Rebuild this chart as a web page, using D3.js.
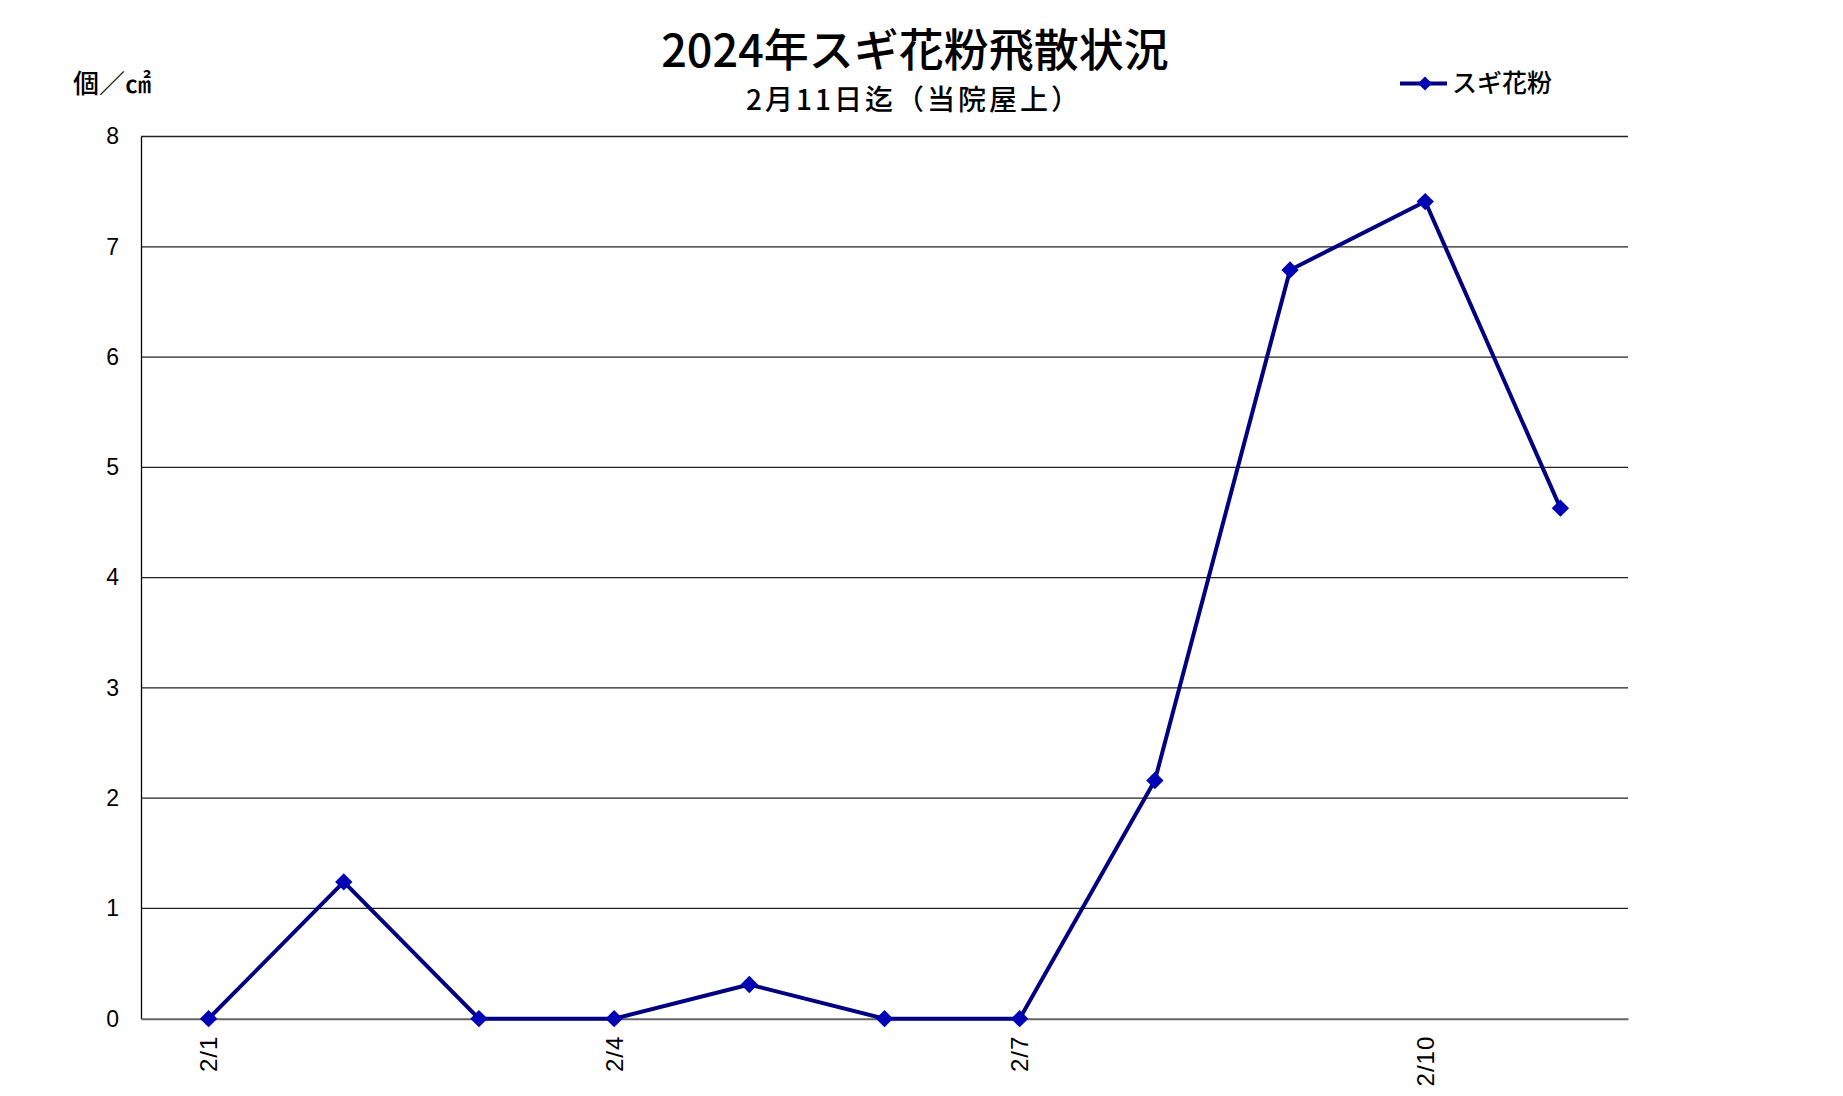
<!DOCTYPE html>
<html>
<head>
<meta charset="utf-8">
<script src="https://cdn.jsdelivr.net/npm/d3@7"></script>
<style>
  html, body { margin: 0; padding: 0; background: #fff; }
  svg { display: block; }
</style>
</head>
<body>
<svg id="chart" width="1843" height="1096"></svg>
<script>
const categories = ["2/1","2/2","2/3","2/4","2/5","2/6","2/7","2/8","2/9","2/10","2/11"];
const values = [0, 1.24, 0, 0, 0.31, 0, 0, 2.16, 6.79, 7.41, 4.63];
const xTickLabels = ["2/1","2/4","2/7","2/10"];
const yTicks = [0,1,2,3,4,5,6,7,8];
const seriesName = "スギ花粉";
const titleText = "2024年スギ花粉飛散状況";
const subtitleText = "2月11日迄（当院屋上）";
const unitText = "個／㎠";

(function () {
const svg = d3.select("#chart");
const pLeft = 141, pRight = 1628, pTop = 136.5, pBottom = 1018.7;
const lineColor = "#000080", markerColor = "#0000b4";
const cjk = "'Noto Sans CJK JP', sans-serif";
const latin = "'Liberation Sans', Arial, sans-serif";

const x = d3.scaleBand().domain(categories).range([pLeft, pRight]);
const y = d3.scaleLinear().domain([0, 8]).range([pBottom, pTop]);

// gridlines
svg.append("g").selectAll("line").data(yTicks.filter(d => d > 0)).join("line")
  .attr("x1", pLeft).attr("x2", pRight)
  .attr("y1", d => y(d)).attr("y2", d => y(d))
  .attr("stroke", "#222").attr("stroke-width", 1.3);

// y axis
const yAxis = d3.axisLeft(y).tickValues(yTicks).tickSize(0).tickPadding(22).tickFormat(d3.format("d"));
const gy = svg.append("g").attr("transform", `translate(${pLeft},0)`).call(yAxis);
gy.select(".domain").attr("stroke", "#000").attr("stroke-width", 1.3);
gy.selectAll("text").attr("font-family", latin).attr("font-size", 23).attr("fill", "#000");

// x axis
const xAxis = d3.axisBottom(x).tickValues(xTickLabels).tickSize(0).tickPadding(0);
const gx = svg.append("g").attr("transform", `translate(0,${pBottom})`).call(xAxis);
gx.select(".domain").attr("stroke", "#666").attr("stroke-width", 2);
gx.selectAll("text")
  .attr("font-family", latin).attr("font-size", 24).attr("fill", "#000")
  .attr("text-anchor", "end").attr("letter-spacing", 1)
  .attr("transform", "translate(0,17) rotate(-90)")
  .attr("x", 0).attr("y", 0).attr("dy", "0.35em");

// line
const line = d3.line()
  .x((d, i) => x(categories[i]) + x.bandwidth() / 2)
  .y(d => y(d));
svg.append("path").datum(values)
  .attr("d", line)
  .attr("fill", "none").attr("stroke", lineColor).attr("stroke-width", 4)
  .attr("stroke-linejoin", "round");

const diamond = d3.symbol().type(d3.symbolSquare).size(150);
svg.append("g").selectAll("path").data(values).join("path")
  .attr("d", diamond)
  .attr("transform", (d, i) => `translate(${x(categories[i]) + x.bandwidth() / 2},${y(d)}) rotate(45)`)
  .attr("fill", markerColor);

// titles
svg.append("text").attr("x", 915).attr("y", 67).attr("text-anchor", "middle")
  .attr("font-family", cjk).attr("font-size", 45).attr("font-weight", 500).attr("fill", "#000").text(titleText);
svg.append("text").attr("x", 914).attr("y", 110).attr("text-anchor", "middle")
  .attr("font-family", cjk).attr("font-size", 28).attr("font-weight", 500).attr("letter-spacing", 3).attr("fill", "#000").text(subtitleText);
svg.append("text").attr("x", 73).attr("y", 93)
  .attr("font-family", cjk).attr("font-size", 26).attr("font-weight", 500).attr("fill", "#000").text(unitText);

// legend
const lg = svg.append("g");
lg.append("line").attr("x1", 1400).attr("x2", 1447).attr("y1", 83.5).attr("y2", 83.5)
  .attr("stroke", lineColor).attr("stroke-width", 4);
lg.append("path").attr("d", d3.symbol().type(d3.symbolSquare).size(100))
  .attr("transform", "translate(1425,83.5) rotate(45)").attr("fill", markerColor);
lg.append("text").attr("x", 1452).attr("y", 92)
  .attr("font-family", cjk).attr("font-size", 25).attr("font-weight", 500).attr("fill", "#000").text(seriesName);
})();
</script>
</body>
</html>
